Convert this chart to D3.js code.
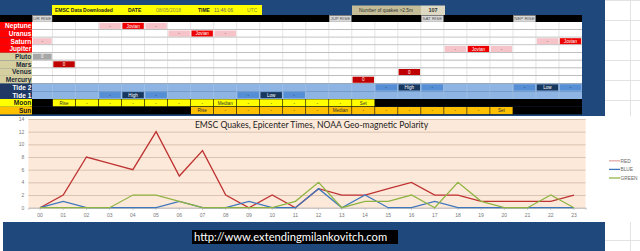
<!DOCTYPE html>
<html>
<head>
<meta charset="utf-8">
<script src="https://cdn.jsdelivr.net/npm/d3@7/dist/d3.min.js"></script>
<style>
  html, body { margin: 0; padding: 0; background: #fff; overflow: hidden; }
  svg { display: block; }
</style>
</head>
<body>
<div id="sheet"></div>
<script>
// --- chart data (quakes per UTC hour) ---
const hours = ["00","01","02","03","04","05","06","07","08","09","10","11",
               "12","13","14","15","16","17","18","19","20","21","22","23"];
const redCounts   = [0,2,8,7,6,12,5,9,2,0,2,0,3,2,2,3,4,2,2,1,1,1,1,2];
const blueCounts  = [0,1,0,0,0,0,1,0,0,1,0,0,3,0,2,0,0,1,0,0,0,0,0,0];
const greenCounts = [0,0,0,0,2,2,1,0,0,0,0,1,4,0,1,1,2,0,4,1,0,0,2,0];
const yTicks = [0,2,4,6,8,10,12,14];
const seriesNames = ["RED","BLUE","GREEN"];

// --- header texts ---
const headerLabels = ["EMSC Data Downloaded","DATE","08/05/2018","TIME","11:46:06","UTC"];
const quakeLabel = "Number of quakes >2.5m";
const quakeTotal = "107";
const chartTitle = "EMSC Quakes, Epicenter Times, NOAA Geo-magnetic Polarity";
const siteUrl = "http://www.extendingmilankovitch.com";

// --- timetable rows: [hour column, text, kind] ---
const riseCells = [[0,"UR RISE"],[13,"JUP RISE"],[17,"SAT RISE"],[21,"NEP RISE"]];
const rowNames = ["Neptune","Uranus","Saturn","Jupiter","Pluto","Mars","Venus","Mercury","Tide 2","Tide 1","Moon","Sun"];
const rowKinds = ["giant","giant","giant","giant","inner","inner","inner","inner","tide","tide","moon","sun"];
const neptuneCells = [[3,"-","near"],[4,"Jovian","jovian"],[5,"-","near"]];
const uranusCells  = [[6,"-","near"],[7,"Jovian","jovian"],[8,"-","near"]];
const saturnCells  = [[0,"-","near"],[22,"-","near"],[23,"Jovian","jovian"]];
const jupiterCells = [[18,"-","near"],[19,"Jovian","jovian"],[20,"-","near"]];
const plutoCells   = [[0,"0","pluto"]];
const marsCells    = [[1,"0","conj"]];
const venusCells   = [[16,"0","conj"]];
const mercuryCells = [[14,"0","conj"]];
const tide2Cells = [[15,"-","tideNear"],[16,"High","tidePeak"],[17,"-","tideNear"],
                    [21,"-","tideNear"],[22,"Low","tidePeak"],[23,"-","tideNear"]];
const tide1Cells = [[3,"-","tideNear"],[4,"High","tidePeak"],[5,"-","tideNear"],
                    [9,"-","tideNear"],[10,"Low","tidePeak"],[11,"-","tideNear"]];
const moonCells = [[1,"Rise"],[2,"-"],[3,"-"],[4,"-"],[5,"-"],[6,"-"],[7,"-"],[8,"Median"],
                   [9,"-"],[10,"-"],[11,"-"],[12,"-"],[13,"-"],[14,"Set"]];
const sunCells = [[7,"Rise"],[8,"-"],[9,"-"],[10,"-"],[11,"-"],[12,"-"],[13,"Median"],
                  [14,"-"],[15,"-"],[16,"-"],[17,"-"],[18,"-"],[19,"-"],[20,"Set"]];
const rowCells = [neptuneCells, uranusCells, saturnCells, jupiterCells, plutoCells, marsCells,
                  venusCells, mercuryCells, tide2Cells, tide1Cells, moonCells, sunCells];

const W = 640, H = 251;
const navy = "#1f497d";
const font = "'Liberation Sans', Arial, sans-serif";
const kindFill = {
  near: "#f6c3c9", jovian: "#ee0000", pluto: "#a6a6a6", conj: "#c00000",
  tideNear: "#558ed5", tidePeak: "#17375e"
};
const kindText = { near: "#555", jovian: "#fff", pluto: "#fff", conj: "#fff", tideNear: "#223", tidePeak: "#fff" };
const labelStyle = {
  giant: {bg: "#ff0000", fg: "#fff"}, inner: {bg: "#d6d0a0", fg: "#1c2a3a"},
  tide: {bg: "#1f3864", fg: "#fff"}, moon: {bg: "#ffff00", fg: "#1c1c1c"}, sun: {bg: "#ffc000", fg: "#1c1c1c"}
};

const svg = d3.select("#sheet").append("svg")
  .attr("width", W).attr("height", H)
  .style("font-family", font);

// spreadsheet gridlines at right
const sheetBg = svg.append("g");
sheetBg.append("rect").attr("width", W).attr("height", H).attr("fill", "#fff");
d3.range(0, H, 20).forEach(y => sheetBg.append("line")
  .attr("x1", 605).attr("x2", W).attr("y1", y + 0.5).attr("y2", y + 0.5).attr("stroke", "#e3e3e3"));
sheetBg.append("line").attr("x1", 630.5).attr("x2", 630.5).attr("y1", 0).attr("y2", H).attr("stroke", "#e3e3e3");

// navy frame
svg.append("rect").attr("x", 0).attr("y", 0).attr("width", 605).attr("height", 116).attr("fill", navy);
svg.append("rect").attr("x", 3).attr("y", 222).attr("width", 602).attr("height", 29).attr("fill", navy);

// ---------- timetable ----------
const col = d3.scaleBand().domain(d3.range(24)).range([29.5, 582]);
const rowTop = 22, rowH = 7.7;
const row = i => rowTop + i * rowH;
const grid = svg.append("g");

// header row (black strip with rise markers)
grid.append("rect").attr("x", 0).attr("y", 15).attr("width", 582).attr("height", 7).attr("fill", "#000");
riseCells.forEach(([c, t]) => {
  const x0 = Math.max(col(c), 32);
  grid.append("rect").attr("x", x0 + 0.5).attr("y", 15.5).attr("width", col(c) + col.bandwidth() - x0 - 1).attr("height", 6.5)
    .attr("fill", "#d9d9d9").attr("stroke", "#8c8c8c").attr("stroke-width", 0.5);
  grid.append("text").attr("x", (x0 + col(c) + col.bandwidth()) / 2).attr("y", 20.4).attr("text-anchor", "middle")
    .attr("font-size", 4.4).attr("fill", "#555").text(t);
});

rowNames.forEach((name, i) => {
  const kind = rowKinds[i];
  const y0 = row(i);
  const base = kind === "tide" ? "#8db4e2" : (kind === "moon" || kind === "sun") ? "#000" : "#fff";
  grid.append("rect").attr("x", col(0)).attr("y", y0).attr("width", col.range()[1] - col(0)).attr("height", rowH)
    .attr("fill", base);
  // column separators
  if (kind !== "moon" && kind !== "sun") {
    d3.range(1, 24).forEach(c => grid.append("line")
      .attr("x1", col(c)).attr("x2", col(c)).attr("y1", y0).attr("y2", y0 + rowH)
      .attr("stroke", kind === "tide" ? "#a9c4e6" : "#d4d4d4").attr("stroke-width", 0.6));
  }
  rowCells[i].forEach(([c, t, k]) => {
    let fill, fg;
    if (kind === "moon") { fill = "#ffff00"; fg = "#333"; }
    else if (kind === "sun") { fill = "#ffc000"; fg = "#333"; }
    else { fill = kindFill[k]; fg = kindText[k]; }
    const inset = (kind === "moon" || kind === "sun") ? 0.3 : 0.8;
    const x0 = Math.max(col(c), 32);
    const x1 = col(c) + col.bandwidth();
    grid.append("rect").attr("x", x0 + inset).attr("y", y0 + inset)
      .attr("width", x1 - x0 - inset * 2).attr("height", rowH - inset * 2).attr("fill", fill);
    grid.append("text").attr("x", (x0 + x1) / 2).attr("y", y0 + rowH / 2 + 1.7)
      .attr("text-anchor", "middle").attr("font-size", 4.6).attr("fill", fg).text(t);
  });
  // row separator
  if (i < 8) {
    grid.append("line").attr("x1", 32).attr("x2", 582).attr("y1", y0 + rowH).attr("y2", y0 + rowH)
      .attr("stroke", "#a3a3a3").attr("stroke-width", 1.3);
  }
  // label column
  const st = labelStyle[kind];
  grid.append("rect").attr("x", 0).attr("y", y0).attr("width", 32).attr("height", rowH).attr("fill", st.bg);
  grid.append("text").attr("transform", `translate(31.3,${y0 + rowH - 1.5}) scale(0.9,1)`)
    .attr("text-anchor", "end").attr("font-size", 7.3).attr("font-weight", "bold")
    .attr("fill", st.fg).text(name);
});
// cover label column in header row
grid.append("rect").attr("x", 0).attr("y", 15).attr("width", 32).attr("height", 7).attr("fill", "#000");

// yellow info box
const info = svg.append("g");
info.append("rect").attr("x", 52).attr("y", 5).attr("width", 210).attr("height", 10).attr("fill", "#ffff00");
const infoX = [55, 128, 156, 198, 214, 247];
const infoCol = ["#222", "#222", "#8a8a4a", "#222", "#666", "#8a8a4a"];
headerLabels.forEach((t, i) => info.append("text").attr("x", infoX[i]).attr("y", 11.8)
  .attr("font-size", 5).attr("font-weight", i === 0 || i === 1 || i === 3 ? "bold" : "normal")
  .attr("fill", infoCol[i]).text(t));
info.append("rect").attr("x", 352).attr("y", 5.5).attr("width", 69).attr("height", 9.5).attr("fill", "#c4bd97");
info.append("text").attr("x", 386).attr("y", 11.8).attr("text-anchor", "middle").attr("font-size", 4.8)
  .attr("fill", "#333").text(quakeLabel);
info.append("rect").attr("x", 421).attr("y", 5.5).attr("width", 24).attr("height", 9.5).attr("fill", "#ddd9c3");
info.append("text").attr("x", 433).attr("y", 12).attr("text-anchor", "middle").attr("font-size", 5.5)
  .attr("font-weight", "bold").attr("fill", "#333").text(quakeTotal);

// ---------- line chart ----------
const chart = svg.append("g");
chart.append("rect").attr("x", 3).attr("y", 116).attr("width", W - 3).attr("height", 106).attr("fill", "#fff");

const x = d3.scaleBand().domain(hours).range([28.4, 585.6]);
const cx = h => x(h) + x.bandwidth() / 2;
const y = d3.scaleLinear().domain([0, 14]).range([207.7, 119]);

chart.append("rect").attr("x", x.range()[0]).attr("y", y(14)).attr("width", x.range()[1] - x.range()[0])
  .attr("height", y(0) - y(14)).attr("fill", "#fde9d9");

const yAxis = chart.append("g").attr("transform", `translate(${x.range()[0]},0)`)
  .call(d3.axisLeft(y).tickValues(yTicks).tickSize(-(x.range()[1] - x.range()[0])).tickPadding(4));
yAxis.select(".domain").remove();
yAxis.selectAll(".tick line").attr("stroke", "#d9c3b3").attr("stroke-width", 1);
yAxis.selectAll(".tick text").attr("font-size", 5).attr("fill", "#777").attr("font-family", font);

const xAxis = chart.append("g").attr("transform", `translate(0,${y(0)})`)
  .call(d3.axisBottom(x).tickSize(2).tickPadding(4));
xAxis.select(".domain").attr("stroke", "#bfbfbf");
xAxis.selectAll(".tick line").attr("stroke", "#bfbfbf");
xAxis.selectAll(".tick text").attr("font-size", 5).attr("fill", "#777").attr("font-family", font);

chart.append("text").attr("x", 311.5).attr("y", 128.3).attr("text-anchor", "middle")
  .attr("font-family", "Lato, 'Open Sans', sans-serif").attr("font-size", 8.6).attr("fill", "#222")
  .text(chartTitle);

const seriesData = [redCounts, blueCounts, greenCounts];
const lineColors = ["#be3232", "#3f77bd", "#8fb443"];
const legendColors = ["#e3a9a9", "#3f77bd", "#8fb443"];
const line = d3.line().x((d, i) => cx(hours[i])).y(d => y(d));
seriesData.forEach((vals, s) => {
  chart.append("path").datum(vals).attr("d", line).attr("fill", "none")
    .attr("stroke", lineColors[s]).attr("stroke-width", 1.3).attr("stroke-linejoin", "miter");
});

const legend = chart.append("g");
seriesNames.forEach((n, s) => {
  const ly = 160.8 + s * 8.6;
  legend.append("line").attr("x1", 609).attr("x2", 620).attr("y1", ly).attr("y2", ly)
    .attr("stroke", legendColors[s]).attr("stroke-width", 1.3);
  legend.append("text").attr("x", 620.5).attr("y", ly + 1.7).attr("font-size", 4.8).attr("fill", "#666").text(n);
});

// ---------- url banner ----------
svg.append("rect").attr("x", 192).attr("y", 230).attr("width", 206).attr("height", 14).attr("fill", "#000");
svg.append("text").attr("x", 194).attr("y", 241).attr("font-family", "Lato, 'Open Sans', sans-serif")
  .attr("font-size", 11.2).attr("fill", "#fff").text(siteUrl);
</script>
</body>
</html>
